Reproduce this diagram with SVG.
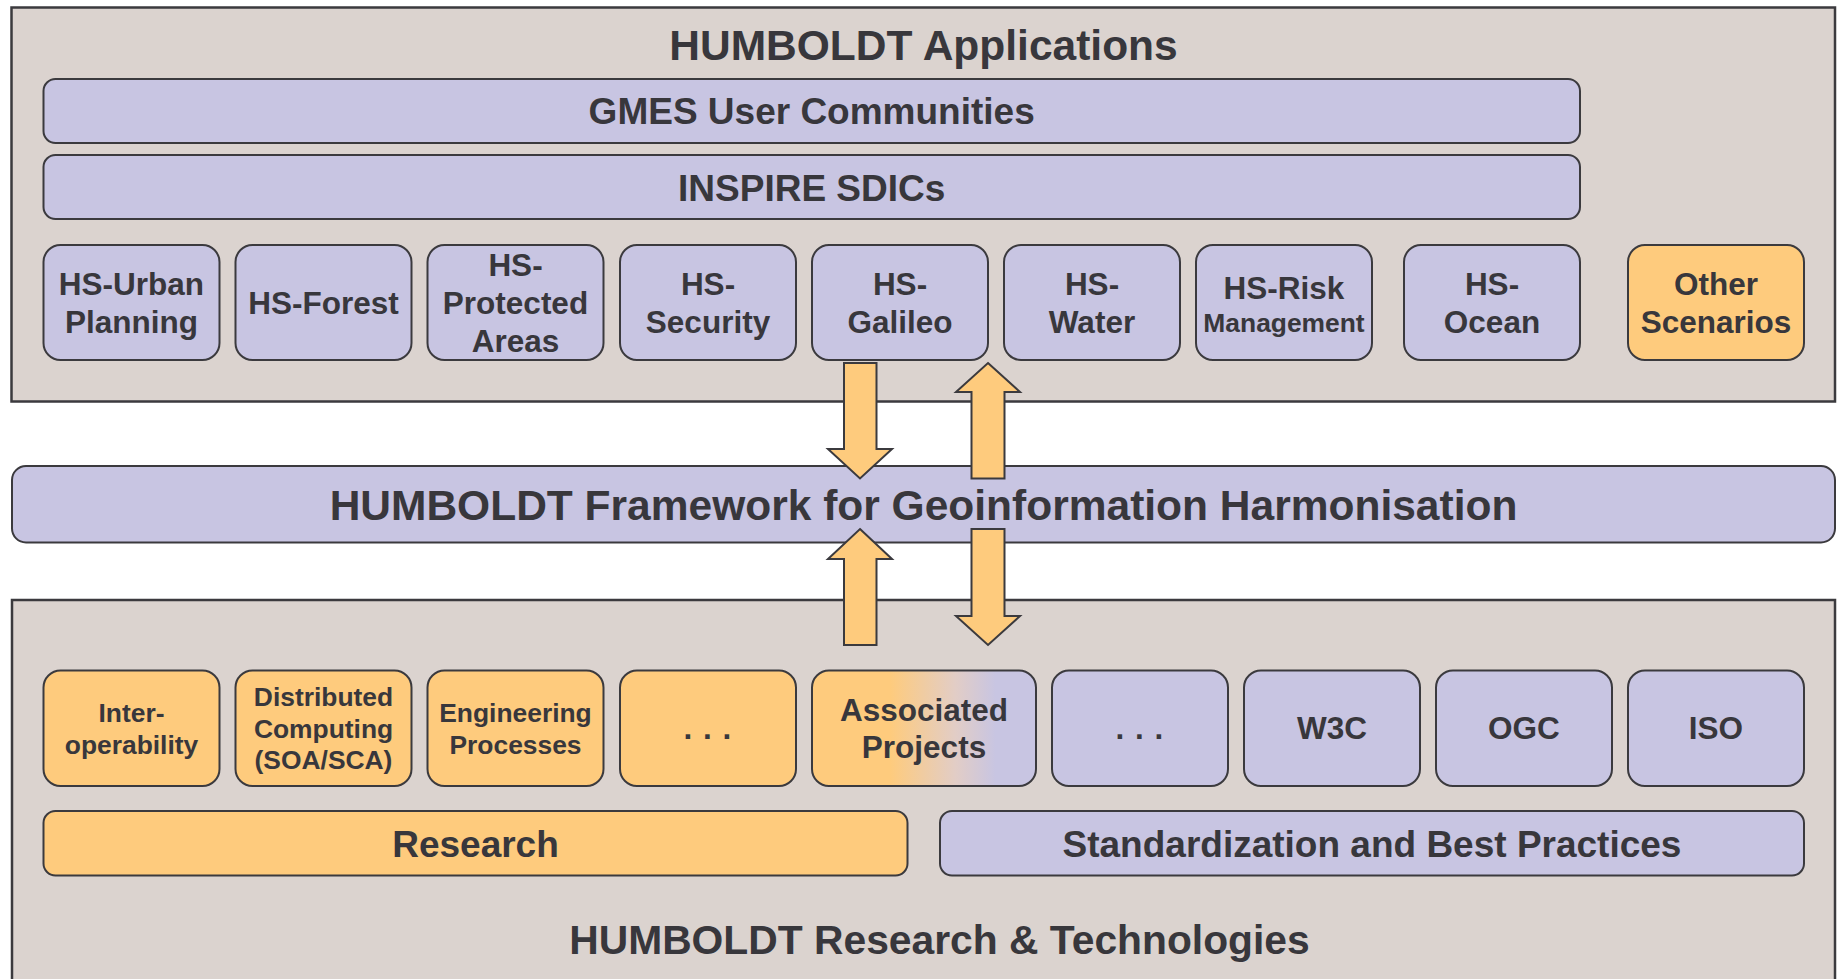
<svg xmlns="http://www.w3.org/2000/svg" width="1839" height="979" viewBox="0 0 1839 979">
<defs>
<style>
.outer{fill:#DBD3CF;stroke:#3B3A3E;stroke-width:2.5}
.lav{fill:#C8C5E2;stroke:#3B3A3E;stroke-width:2}
.org{fill:#FECB7D;stroke:#3B3A3E;stroke-width:2}
.arrow{fill:#FECB7D;stroke:#3B3A3E;stroke-width:2;stroke-linejoin:miter}
text{font-family:"Liberation Sans",Arial,Helvetica,sans-serif;font-weight:bold;fill:#38373C;text-anchor:middle}
.t1{font-size:42.5px}
.t2{font-size:37px}
.t3{font-size:31.5px}
.t4{font-size:26.4px}
</style>
<linearGradient id="assoc" x1="0" y1="0" x2="1" y2="0">
<stop offset="0.35" stop-color="#FECB7D"/>
<stop offset="0.64" stop-color="#E2CDC6"/>
<stop offset="0.82" stop-color="#C8C5E2"/>
</linearGradient>
</defs>
<rect width="1839" height="979" fill="#FFFFFF"/>

<g id="applications">
<rect class="outer" x="11.5" y="7.5" width="1823.5" height="394"/>
<text class="t1" x="923.5" y="60">HUMBOLDT Applications</text>
</g>
<g id="gmes">
<rect class="lav" x="43.5" y="79" width="1536.5" height="64" rx="12"/>
<text class="t2" x="811.7" y="124">GMES User Communities</text>
</g>
<g id="inspire">
<rect class="lav" x="43.5" y="155" width="1536.5" height="64" rx="12"/>
<text class="t2" x="811.7" y="200.5">INSPIRE SDICs</text>
</g>
<g id="hs-urban">
<rect class="lav" x="43.5" y="245" width="176" height="115" rx="17"/>
<text class="t3" x="131.5" y="295">HS-Urban</text>
<text class="t3" x="131.5" y="333">Planning</text>
</g>
<g id="hs-forest">
<rect class="lav" x="235.5" y="245" width="176" height="115" rx="17"/>
<text class="t3" x="323.5" y="314">HS-Forest</text>
</g>
<g id="hs-protected">
<rect class="lav" x="427.5" y="245" width="176" height="115" rx="17"/>
<text class="t3" x="515.5" y="276">HS-</text>
<text class="t3" x="515.5" y="314">Protected</text>
<text class="t3" x="515.5" y="352">Areas</text>
</g>
<g id="hs-security">
<rect class="lav" x="620" y="245" width="176" height="115" rx="17"/>
<text class="t3" x="708" y="295">HS-</text>
<text class="t3" x="708" y="333">Security</text>
</g>
<g id="hs-galileo">
<rect class="lav" x="812" y="245" width="176" height="115" rx="17"/>
<text class="t3" x="900" y="295">HS-</text>
<text class="t3" x="900" y="333">Galileo</text>
</g>
<g id="hs-water">
<rect class="lav" x="1004" y="245" width="176" height="115" rx="17"/>
<text class="t3" x="1092" y="295">HS-</text>
<text class="t3" x="1092" y="333">Water</text>
</g>
<g id="hs-risk">
<rect class="lav" x="1196" y="245" width="176" height="115" rx="17"/>
<text class="t3" x="1284" y="299">HS-Risk</text>
<text class="t4" x="1284" y="332">Management</text>
</g>
<g id="hs-ocean">
<rect class="lav" x="1404" y="245" width="176" height="115" rx="17"/>
<text class="t3" x="1492" y="295">HS-</text>
<text class="t3" x="1492" y="333">Ocean</text>
</g>
<g id="other-scenarios">
<rect class="org" x="1628" y="245" width="176" height="115" rx="17"/>
<text class="t3" x="1716" y="295">Other</text>
<text class="t3" x="1716" y="333">Scenarios</text>
</g>

<g id="framework">
<rect class="lav" x="12" y="466" width="1823" height="76.5" rx="14"/>
<text class="t1" x="923.5" y="519.5">HUMBOLDT Framework for Geoinformation Harmonisation</text>
</g>

<g id="research-technologies">
<rect class="outer" x="12" y="600" width="1823" height="395"/>
<text x="939.5" y="954" style="font-size:40.8px">HUMBOLDT Research &amp; Technologies</text>
</g>
<g id="interoperability">
<rect class="org" x="43.5" y="670.5" width="176" height="115.5" rx="17"/>
<text class="t4" x="131.5" y="722">Inter-</text>
<text class="t4" x="131.5" y="754">operability</text>
</g>
<g id="distributed">
<rect class="org" x="235.5" y="670.5" width="176" height="115.5" rx="17"/>
<text class="t4" x="323.5" y="706">Distributed</text>
<text class="t4" x="323.5" y="737.6">Computing</text>
<text class="t4" x="323.5" y="769">(SOA/SCA)</text>
</g>
<g id="engineering">
<rect class="org" x="427.5" y="670.5" width="176" height="115.5" rx="17"/>
<text class="t4" x="515.5" y="722">Engineering</text>
<text class="t4" x="515.5" y="754">Processes</text>
</g>
<g id="research-more">
<rect class="org" x="620" y="670.5" width="176" height="115.5" rx="17"/>
<text class="t3" x="708" y="739.4" letter-spacing="1">. . .</text>
</g>
<g id="associated">
<rect x="812" y="670.5" width="224" height="115.5" rx="17" fill="url(#assoc)" stroke="#3B3A3E" stroke-width="2"/>
<text class="t3" x="924" y="721">Associated</text>
<text class="t3" x="924" y="758">Projects</text>
</g>
<g id="standards-more">
<rect class="lav" x="1052" y="670.5" width="176" height="115.5" rx="17"/>
<text class="t3" x="1140" y="739.4" letter-spacing="1">. . .</text>
</g>
<g id="w3c">
<rect class="lav" x="1244" y="670.5" width="176" height="115.5" rx="17"/>
<text class="t3" x="1332" y="739.4">W3C</text>
</g>
<g id="ogc">
<rect class="lav" x="1436" y="670.5" width="176" height="115.5" rx="17"/>
<text class="t3" x="1524" y="739.4">OGC</text>
</g>
<g id="iso">
<rect class="lav" x="1628" y="670.5" width="176" height="115.5" rx="17"/>
<text class="t3" x="1716" y="739.4">ISO</text>
</g>
<g id="research">
<rect class="org" x="43.5" y="811" width="864" height="64.5" rx="12"/>
<text class="t2" x="475.5" y="856.5">Research</text>
</g>
<g id="standardization">
<rect class="lav" x="940" y="811" width="864" height="64.5" rx="12"/>
<text class="t2" x="1372" y="856.5">Standardization and Best Practices</text>
</g>

<g id="connectors">
<polygon class="arrow" points="844,363 876.5,363 876.5,449 892,449 860,478.5 828,449 844,449"/>
<polygon class="arrow" points="988,363 1020,392 1004.5,392 1004.5,478.5 971.5,478.5 971.5,392 956,392"/>
<polygon class="arrow" points="860,529 892,559 876.5,559 876.5,645 844,645 844,559 828,559"/>
<polygon class="arrow" points="971.5,529 1004.5,529 1004.5,616 1020,616 988,645 956,616 971.5,616"/>
</g>
</svg>
